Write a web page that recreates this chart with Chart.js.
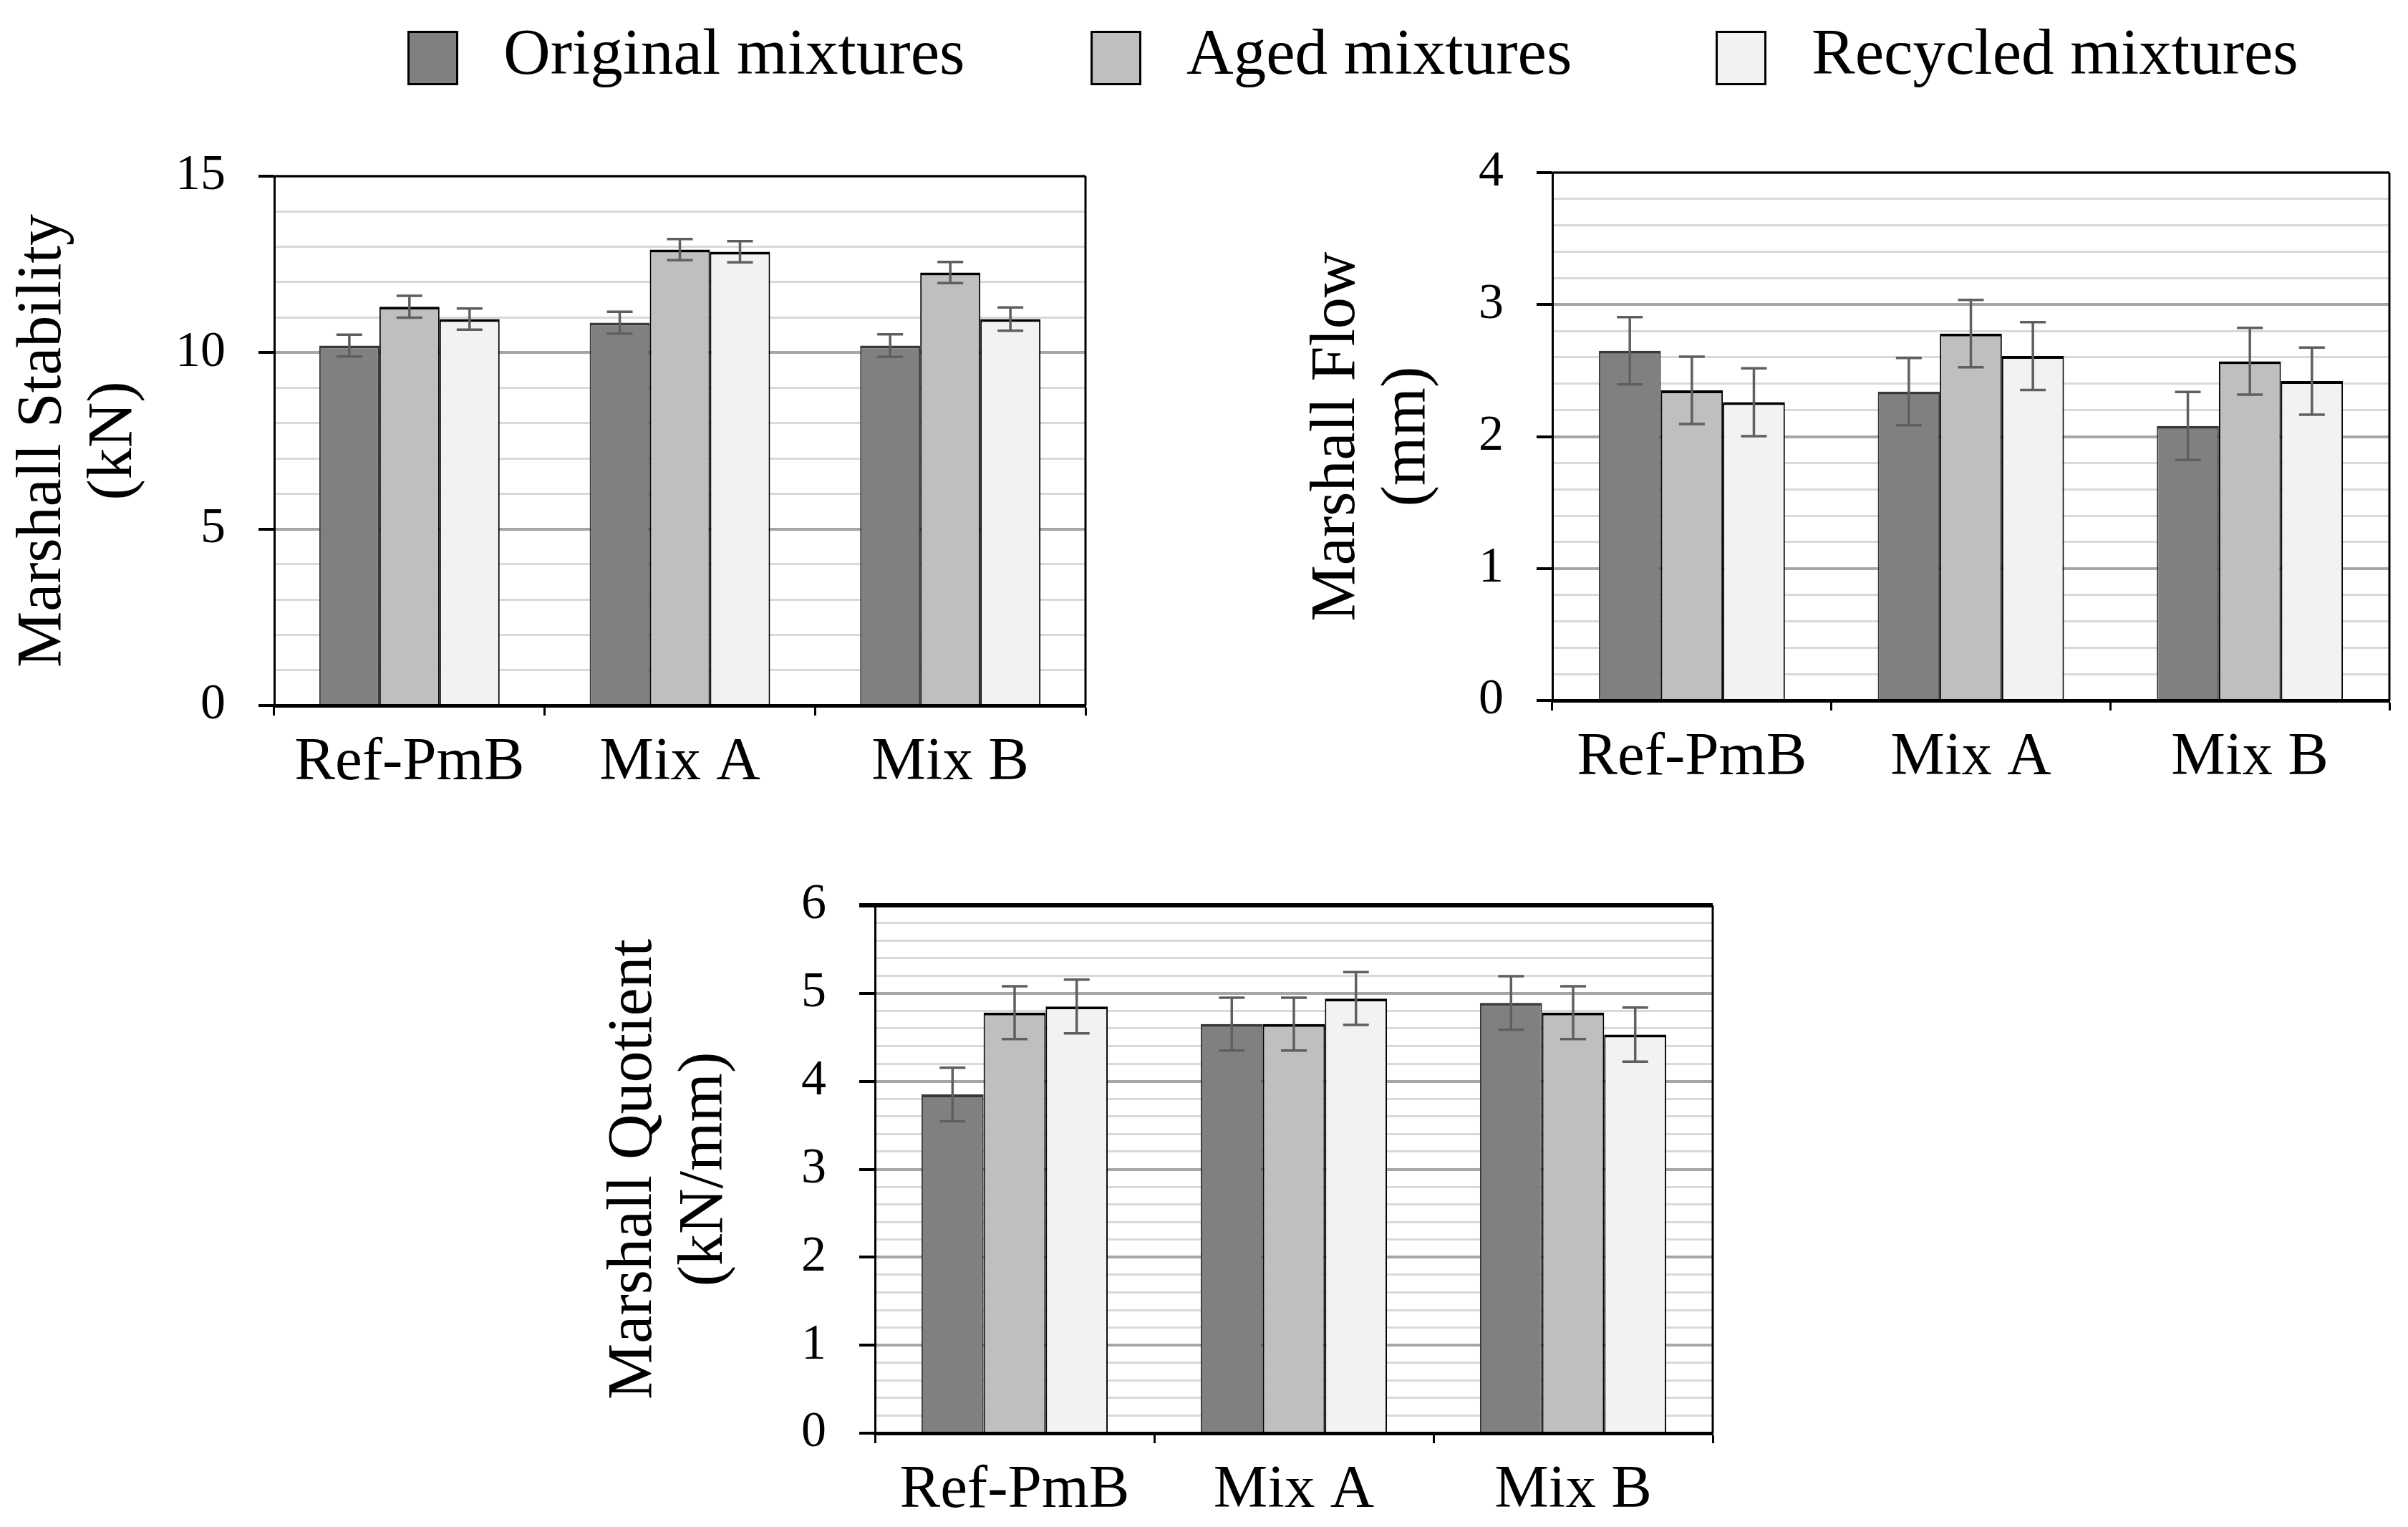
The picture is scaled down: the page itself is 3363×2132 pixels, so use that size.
<!DOCTYPE html>
<html>
<head>
<meta charset="utf-8">
<script src="https://cdn.jsdelivr.net/npm/chart.js@4/dist/chart.umd.min.js"></script>
<style>
  html, body { margin: 0; padding: 0; background: #fff; }
  body { width: 3363px; height: 2132px; position: relative; overflow: hidden; }
  canvas { position: absolute; }
  .leg { position: absolute; top: 28px; height: 100px; font-family: 'Liberation Serif', serif; font-size: 91px; line-height: 90px; color: #000; white-space: nowrap; }
  .leg .box { position: absolute; left: 0; top: 15px; width: 65px; height: 70px; border: 3px solid #000; }
  .leg .txt { position: absolute; left: 134px; top: 0; }
</style>
</head>
<body>
<div id="legend"></div>
<canvas id="c1" width="1536" height="977" style="left:0px;top:158px"></canvas>
<canvas id="c2" width="1557" height="985" style="left:1800px;top:153px"></canvas>
<canvas id="c3" width="1592" height="956" style="left:820px;top:1176px"></canvas>
<script>
// categories and series
const categories = ['Ref-PmB', 'Mix A', 'Mix B'];
const seriesNames = ['Original mixtures', 'Aged mixtures', 'Recycled mixtures'];

// Marshall stability (kN)
const stabilityOriginal = [10.2, 10.85, 10.2];
const stabilityAged = [11.3, 12.92, 12.27];
const stabilityRecycled = [10.95, 12.86, 10.95];
const stabilityOriginalErr = [0.31, 0.31, 0.32];
const stabilityAgedErr = [0.31, 0.3, 0.3];
const stabilityRecycledErr = [0.3, 0.3, 0.33];

// Marshall flow (mm)
const flowOriginal = [2.65, 2.34, 2.08];
const flowAged = [2.35, 2.78, 2.57];
const flowRecycled = [2.26, 2.61, 2.42];
const flowOriginalErr = [0.255, 0.255, 0.258];
const flowAgedErr = [0.255, 0.255, 0.253];
const flowRecycledErr = [0.257, 0.257, 0.254];

// Marshall quotient (kN/mm)
const quotientOriginal = [3.85, 4.65, 4.89];
const quotientAged = [4.78, 4.65, 4.78];
const quotientRecycled = [4.85, 4.94, 4.53];
const quotientOriginalErr = [0.305, 0.3, 0.305];
const quotientAgedErr = [0.3, 0.3, 0.3];
const quotientRecycledErr = [0.305, 0.3, 0.307];

const fillColors = ['#808080', '#bfbfbf', '#f2f2f2'];
const edgeColors = ['#383838', '#000000', '#000000'];
const FONT = "'Liberation Serif', serif";

// legend
const legendLeft = [569, 1523, 2396];
const legend = document.getElementById('legend');
seriesNames.forEach((name, i) => {
    const d = document.createElement('div');
    d.className = 'leg';
    d.style.left = legendLeft[i] + 'px';
    d.innerHTML = '<div class="box" style="background:' + fillColors[i] + '"></div><div class="txt">' + name + '</div>';
    legend.appendChild(d);
});

// error bars drawn from the bar elements and the y scale
const errorBars = {
    id: 'errorBars',
    afterDatasetsDraw(chart) {
        const ctx = chart.ctx;
        const y = chart.scales.y;
        ctx.save();
        ctx.strokeStyle = '#5f5f5f';
        ctx.lineWidth = 3.5;
        chart.data.datasets.forEach((ds, i) => {
            const meta = chart.getDatasetMeta(i);
            meta.data.forEach((bar, j) => {
                const v = ds.data[j], e = ds.errors[j];
                const top = y.getPixelForValue(v + e);
                const bot = y.getPixelForValue(v - e);
                ctx.beginPath();
                ctx.moveTo(bar.x, top); ctx.lineTo(bar.x, bot);
                ctx.moveTo(bar.x - 18, top); ctx.lineTo(bar.x + 18, top);
                ctx.moveTo(bar.x - 18, bot); ctx.lineTo(bar.x + 18, bot);
                ctx.stroke();
            });
        });
        ctx.restore();
    }
};

// top and right frame of the plot area
const frame = {
    id: 'frame',
    afterDatasetsDraw(chart, args, opts) {
        const a = chart.chartArea;
        const ctx = chart.ctx;
        ctx.save();
        ctx.strokeStyle = '#000';
        ctx.lineWidth = opts.top || 3;
        ctx.beginPath();
        ctx.moveTo(a.left - 22, a.top); ctx.lineTo(a.right, a.top);
        ctx.stroke();
        ctx.lineWidth = 3;
        ctx.beginPath();
        ctx.moveTo(a.right, a.top); ctx.lineTo(a.right, a.bottom);
        ctx.stroke();
        ctx.restore();
    }
};

function makeChart(id, series, errs, cfg) {
    const isMajor = (v) => Math.abs(v - Math.round(v)) < 1e-6 && Math.round(v) % cfg.major === 0;
    return new Chart(document.getElementById(id), {
        type: 'bar',
        data: {
            labels: categories,
            datasets: series.map((s, i) => ({
                label: seriesNames[i],
                data: s,
                errors: errs[i],
                backgroundColor: fillColors[i],
                borderColor: edgeColors[i],
                borderWidth: { top: 4, left: 2, right: 2, bottom: 0 },
                borderSkipped: false,
                barPercentage: 1,
                categoryPercentage: 0.667
            }))
        },
        options: {
            responsive: false,
            animation: false,
            devicePixelRatio: 1,
            // y tick labels reserve 42 + 46 px above the plot, so the canvas sits higher
            layout: { padding: { top: 0, right: 20, left: 0, bottom: 0 } },
            plugins: {
                legend: { display: false },
                tooltip: { enabled: false },
                frame: { top: cfg.frameTop }
            },
            scales: {
                x: {
                    z: 1,
                    grid: { drawOnChartArea: false, offset: true, tickLength: 14, tickWidth: 3, tickColor: '#000' },
                    border: { display: true, color: '#000', width: 5 },
                    ticks: { color: '#000', font: { family: FONT, size: 85 }, padding: 16, maxRotation: 0 },
                    afterFit: (s) => { s.height = cfg.xHeight; }
                },
                y: {
                    min: 0,
                    max: cfg.max,
                    grid: {
                        color: (c) => isMajor(c.tick.value) ? '#a6a6a6' : '#d9d9d9',
                        lineWidth: (c) => isMajor(c.tick.value) ? 4 : 3,
                        tickColor: (c) => isMajor(c.tick.value) ? '#000' : 'rgba(0,0,0,0)',
                        tickWidth: 4,
                        tickLength: 22
                    },
                    border: { display: true, color: '#000', width: 3 },
                    ticks: {
                        stepSize: cfg.step,
                        maxTicksLimit: 1000,
                        autoSkip: false,
                        color: '#000',
                        padding: 46,
                        font: { family: FONT, size: 70 },
                        callback: (v) => isMajor(v) ? String(Math.round(v)) : ''
                    },
                    title: {
                        display: true,
                        text: cfg.title,
                        color: '#000',
                        font: { family: FONT, size: 88, lineHeight: 1.12 },
                        padding: { top: cfg.titlePad, bottom: 0 }
                    },
                    afterFit: (s) => { s.width = cfg.yWidth; }
                }
            }
        },
        plugins: [frame, errorBars]
    });
}

makeChart('c1',
    [stabilityOriginal, stabilityAged, stabilityRecycled],
    [stabilityOriginalErr, stabilityAgedErr, stabilityRecycledErr],
    { max: 15, step: 1, major: 5, title: ['Marshall Stability', '(kN)'], xHeight: 150, yWidth: 383, titlePad: 12, frameTop: 3 });

makeChart('c2',
    [flowOriginal, flowAged, flowRecycled],
    [flowOriginalErr, flowAgedErr, flowRecycledErr],
    { max: 4, step: 0.2, major: 1, title: ['Marshall Flow', '(mm)'], xHeight: 160, yWidth: 368, titlePad: 19, frameTop: 3 });

makeChart('c3',
    [quotientOriginal, quotientAged, quotientRecycled],
    [quotientOriginalErr, quotientAgedErr, quotientRecycledErr],
    { max: 6, step: 0.2, major: 1, title: ['Marshall Quotient', '(kN/mm)'], xHeight: 131, yWidth: 402, titlePad: 17, frameTop: 6 });
</script>
</body>
</html>
